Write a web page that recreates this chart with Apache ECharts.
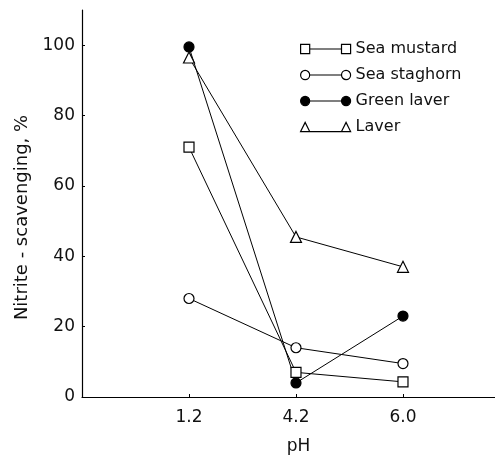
<!DOCTYPE html>
<html>
<head>
<meta charset="utf-8">
<script src="https://cdn.jsdelivr.net/npm/echarts@6/dist/echarts.min.js"></script>
<style>
  html, body { margin: 0; padding: 0; background: #fff; }
  #chart { width: 495px; height: 461px; }
</style>
</head>
<body>
<div id="chart"></div>
<script>
// pH values drawn at evenly spaced slots 1, 2, 3 along the axis
var phLabels = ['1.2', '4.2', '6.0'];
var phSlots = [1, 2, 3];
var yTicks = [0, 20, 40, 60, 80, 100];

var seaMustard = [71, 7, 4.3];
var seaStaghorn = [28, 14, 9.5];
var greenLaver = [99.5, 4, 23];
var laver = [96.5, 45.5, 37];

var myChart = echarts.init(document.getElementById('chart'));

var font = 'DejaVu Sans';

function pairs(vals) {
    var out = [];
    for (var i = 0; i < vals.length; i++) {
        out.push([phSlots[i], vals[i]]);
    }
    return out;
}

function lineSeries(name, data, symbol, fill) {
    return {
        name: name,
        type: 'line',
        data: pairs(data),
        symbol: symbol,
        symbolSize: symbol == 'triangle' ? 11 : 10,
        lineStyle: { color: '#000', width: 1 },
        itemStyle: { color: fill, borderColor: '#000', borderWidth: 1.2 },
        emphasis: { disabled: true }
    };
}

myChart.setOption({
    animation: false,
    grid: { left: 82, right: 0, top: 10, bottom: 64 },
    legend: {
        orient: 'vertical',
        left: 295,
        top: 36,
        itemWidth: 50,
        itemHeight: 10,
        itemGap: 10,
        textStyle: { fontFamily: font, fontSize: 16, color: '#111' },
        data: [
            { name: 'Sea mustard', icon: 'path://M1,1h8v8h-8z M9,5h28 M37,1h8v8h-8z',
              itemStyle: { color: '#fff', borderColor: '#000', borderWidth: 1.2 } },
            { name: 'Sea staghorn', icon: 'path://M1,5a4,4 0 1,0 8,0a4,4 0 1,0 -8,0z M9,5h28 M37,5a4,4 0 1,0 8,0a4,4 0 1,0 -8,0z',
              itemStyle: { color: '#fff', borderColor: '#000', borderWidth: 1.2 } },
            { name: 'Green laver', icon: 'path://M1,5a4,4 0 1,0 8,0a4,4 0 1,0 -8,0z M9,5h28 M37,5a4,4 0 1,0 8,0a4,4 0 1,0 -8,0z',
              itemStyle: { color: '#000', borderColor: '#000', borderWidth: 1.2 } },
            { name: 'Laver', icon: 'path://M1,9l4,-8l4,8z M9,9h28 M37,9l4,-8l4,8z',
              itemStyle: { color: '#fff', borderColor: '#000', borderWidth: 1.2 } }
        ]
    },
    xAxis: {
        type: 'value',
        min: 0,
        max: 3.86,
        name: 'pH',
        nameLocation: 'middle',
        nameGap: 41,
        nameTextStyle: { fontFamily: font, fontSize: 17, color: '#111', padding: [0, 0, 0, 20] },
        axisLine: { lineStyle: { color: '#000', width: 1.2 } },
        axisTick: { show: true, inside: true, length: 3, lineStyle: { color: '#000' },
                    customValues: phSlots },
        axisLabel: { fontFamily: font, fontSize: 17, color: '#111', margin: 12,
                     customValues: phSlots,
                     formatter: function (v) { return phLabels[Math.round(v) - 1]; } },
        splitLine: { show: false }
    },
    yAxis: {
        type: 'value',
        min: 0,
        max: 110,
        interval: 20,
        name: 'Nitrite - scavenging, %',
        nameLocation: 'middle',
        nameGap: 48,
        nameTextStyle: { fontFamily: font, fontSize: 18, color: '#111', padding: [0, 28, 0, 0] },
        axisLine: { show: true, lineStyle: { color: '#000', width: 1.2 } },
        axisTick: { show: true, inside: true, length: 3, lineStyle: { color: '#000' },
                    customValues: yTicks },
        axisLabel: { fontFamily: font, fontSize: 17, color: '#111', margin: 7,
                     customValues: yTicks },
        splitLine: { show: false }
    },
    series: [
        lineSeries('Sea mustard', seaMustard, 'rect', '#fff'),
        lineSeries('Sea staghorn', seaStaghorn, 'circle', '#fff'),
        lineSeries('Green laver', greenLaver, 'circle', '#000'),
        lineSeries('Laver', laver, 'triangle', '#fff')
    ]
});
</script>
</body>
</html>
